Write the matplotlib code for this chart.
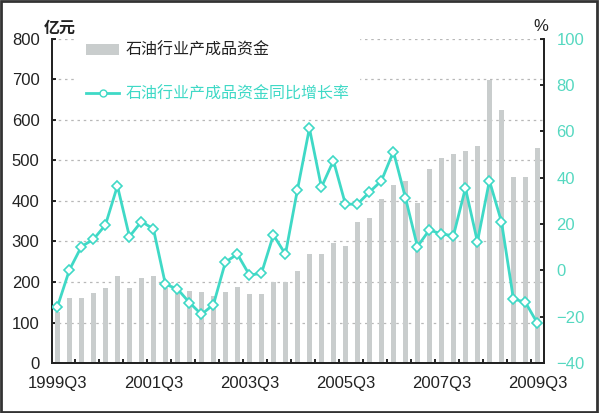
import matplotlib
matplotlib.use("Agg")
from matplotlib import pyplot as plt
from matplotlib.lines import Line2D
from matplotlib.patches import Patch, Rectangle
import numpy as np

plt.rcParams['font.family'] = ['Noto Sans CJK SC', 'DejaVu Sans']

# quarterly data 1999Q3 - 2009Q3
quarters = []
for y in range(1999, 2010):
    for q in range(1, 5):
        if (y == 1999 and q < 3) or (y == 2009 and q > 3):
            continue
        quarters.append(str(y) + "Q" + str(q))

# 石油行业产成品资金 (亿元)
stock = [125, 161, 161, 174, 184, 215, 184, 211, 215, 185,
         176, 178, 176, 166, 175, 188, 170, 170, 200, 201,
         228, 270, 268, 295, 290, 349, 357, 405, 440, 450,
         394, 478, 505, 517, 522, 535, 698, 625, 460, 460,
         530]

# 同比增长率 (%)
growth = [-15.7, 0.2, 10.3, 13.4, 19.6, 36.5, 14.6, 21.1, 17.9, -6.0,
          -8.0, -13.9, -19.0, -14.8, 3.6, 7.0, -2.0, -1.3, 15.3, 7.0,
          34.8, 61.4, 35.9, 47.4, 28.6, 28.6, 33.8, 38.7, 51.3, 31.4,
          10.3, 17.5, 15.7, 15.0, 35.5, 12.4, 38.7, 21.1, -12.3, -13.8,
          -22.8]

label_idx = [0, 8, 16, 24, 32, 40]

bar_color = "#c9cdcd"
line_color = "#3fd9c6"
tick_color = "#55d8c0"
text_color = "#222222"
num_font = ['Liberation Sans', 'DejaVu Sans']

fig = plt.figure(figsize=(6.0, 4.13), dpi=100)
ax = fig.add_axes([0.0867, 0.121, 0.82, 0.785])
ax2 = ax.twinx()

x = np.arange(len(quarters))
ax.bar(x, stock, width=0.36, color=bar_color, zorder=2)
ax.set_ylim(0, 800)
ax.set_yticks(range(0, 801, 100))
ax.set_xlim(-0.45, 40.55)
ax.grid(axis="y", linestyle=(0, (2, 3)), color="#b8b8b8", linewidth=0.9, zorder=0)
ax.set_axisbelow(True)

ax.set_xticks([x[i] for i in label_idx])
ax.set_xticklabels([quarters[i] for i in label_idx])
ax.set_xticks(np.arange(1.5, 40, 2), minor=True)
ax.tick_params(axis="x", which="major", length=0, pad=9, labelcolor=text_color)
ax.tick_params(axis="x", which="minor", direction="in", length=3, width=1.2)
ax.tick_params(axis="y", direction="in", length=3, width=1.2, labelcolor=text_color, pad=9)

ax2.plot(x, growth, color=line_color, linewidth=2, marker="D", markersize=5,
         markerfacecolor="white", markeredgecolor=line_color, markeredgewidth=1.2, zorder=3)
ax2.set_ylim(-40, 100)
ax2.set_yticks(range(-40, 101, 20))
ax2.tick_params(axis="y", direction="in", length=3, width=1.2,
                labelcolor=tick_color, pad=9)

for lab in ax.get_xticklabels() + ax.get_yticklabels() + ax2.get_yticklabels():
    lab.set_family(num_font)
    lab.set_fontsize(12)

for a in (ax, ax2):
    a.spines["top"].set_visible(False)
    for s in ("left", "right", "bottom"):
        a.spines[s].set_linewidth(1.3)
        a.spines[s].set_color("#222222")

fig.text(0.1, 0.932, "亿元", fontsize=11.5, color=text_color, ha="center", va="center",
         fontweight="bold")
fig.text(0.902, 0.935, "%", fontsize=12, color=text_color, ha="center", va="center",
         family=num_font)

handles = [Patch(facecolor=bar_color, edgecolor="none"),
           Line2D([0], [0], color=line_color, linewidth=2, marker="o", markersize=5,
                  markerfacecolor="white", markeredgecolor=line_color)]
labels = ["石油行业产成品资金", "石油行业产成品资金同比增长率"]
leg = ax2.legend(handles, labels, loc="upper left", bbox_to_anchor=(0.033, 1.045),
                 frameon=True, fontsize=11.5, labelspacing=1.65, handlelength=2.1,
                 handletextpad=0.4, borderpad=0.6)
leg.get_frame().set_facecolor("white")
leg.get_frame().set_edgecolor("white")
leg.get_frame().set_alpha(1)
leg.get_texts()[1].set_color(line_color)
leg.get_texts()[0].set_color(text_color)

fig.patches.append(Rectangle((0.002, 0.003), 0.993, 0.994, transform=fig.transFigure,
                             fill=False, edgecolor="#333333", linewidth=2))

fig.savefig("out.png", dpi=100)
